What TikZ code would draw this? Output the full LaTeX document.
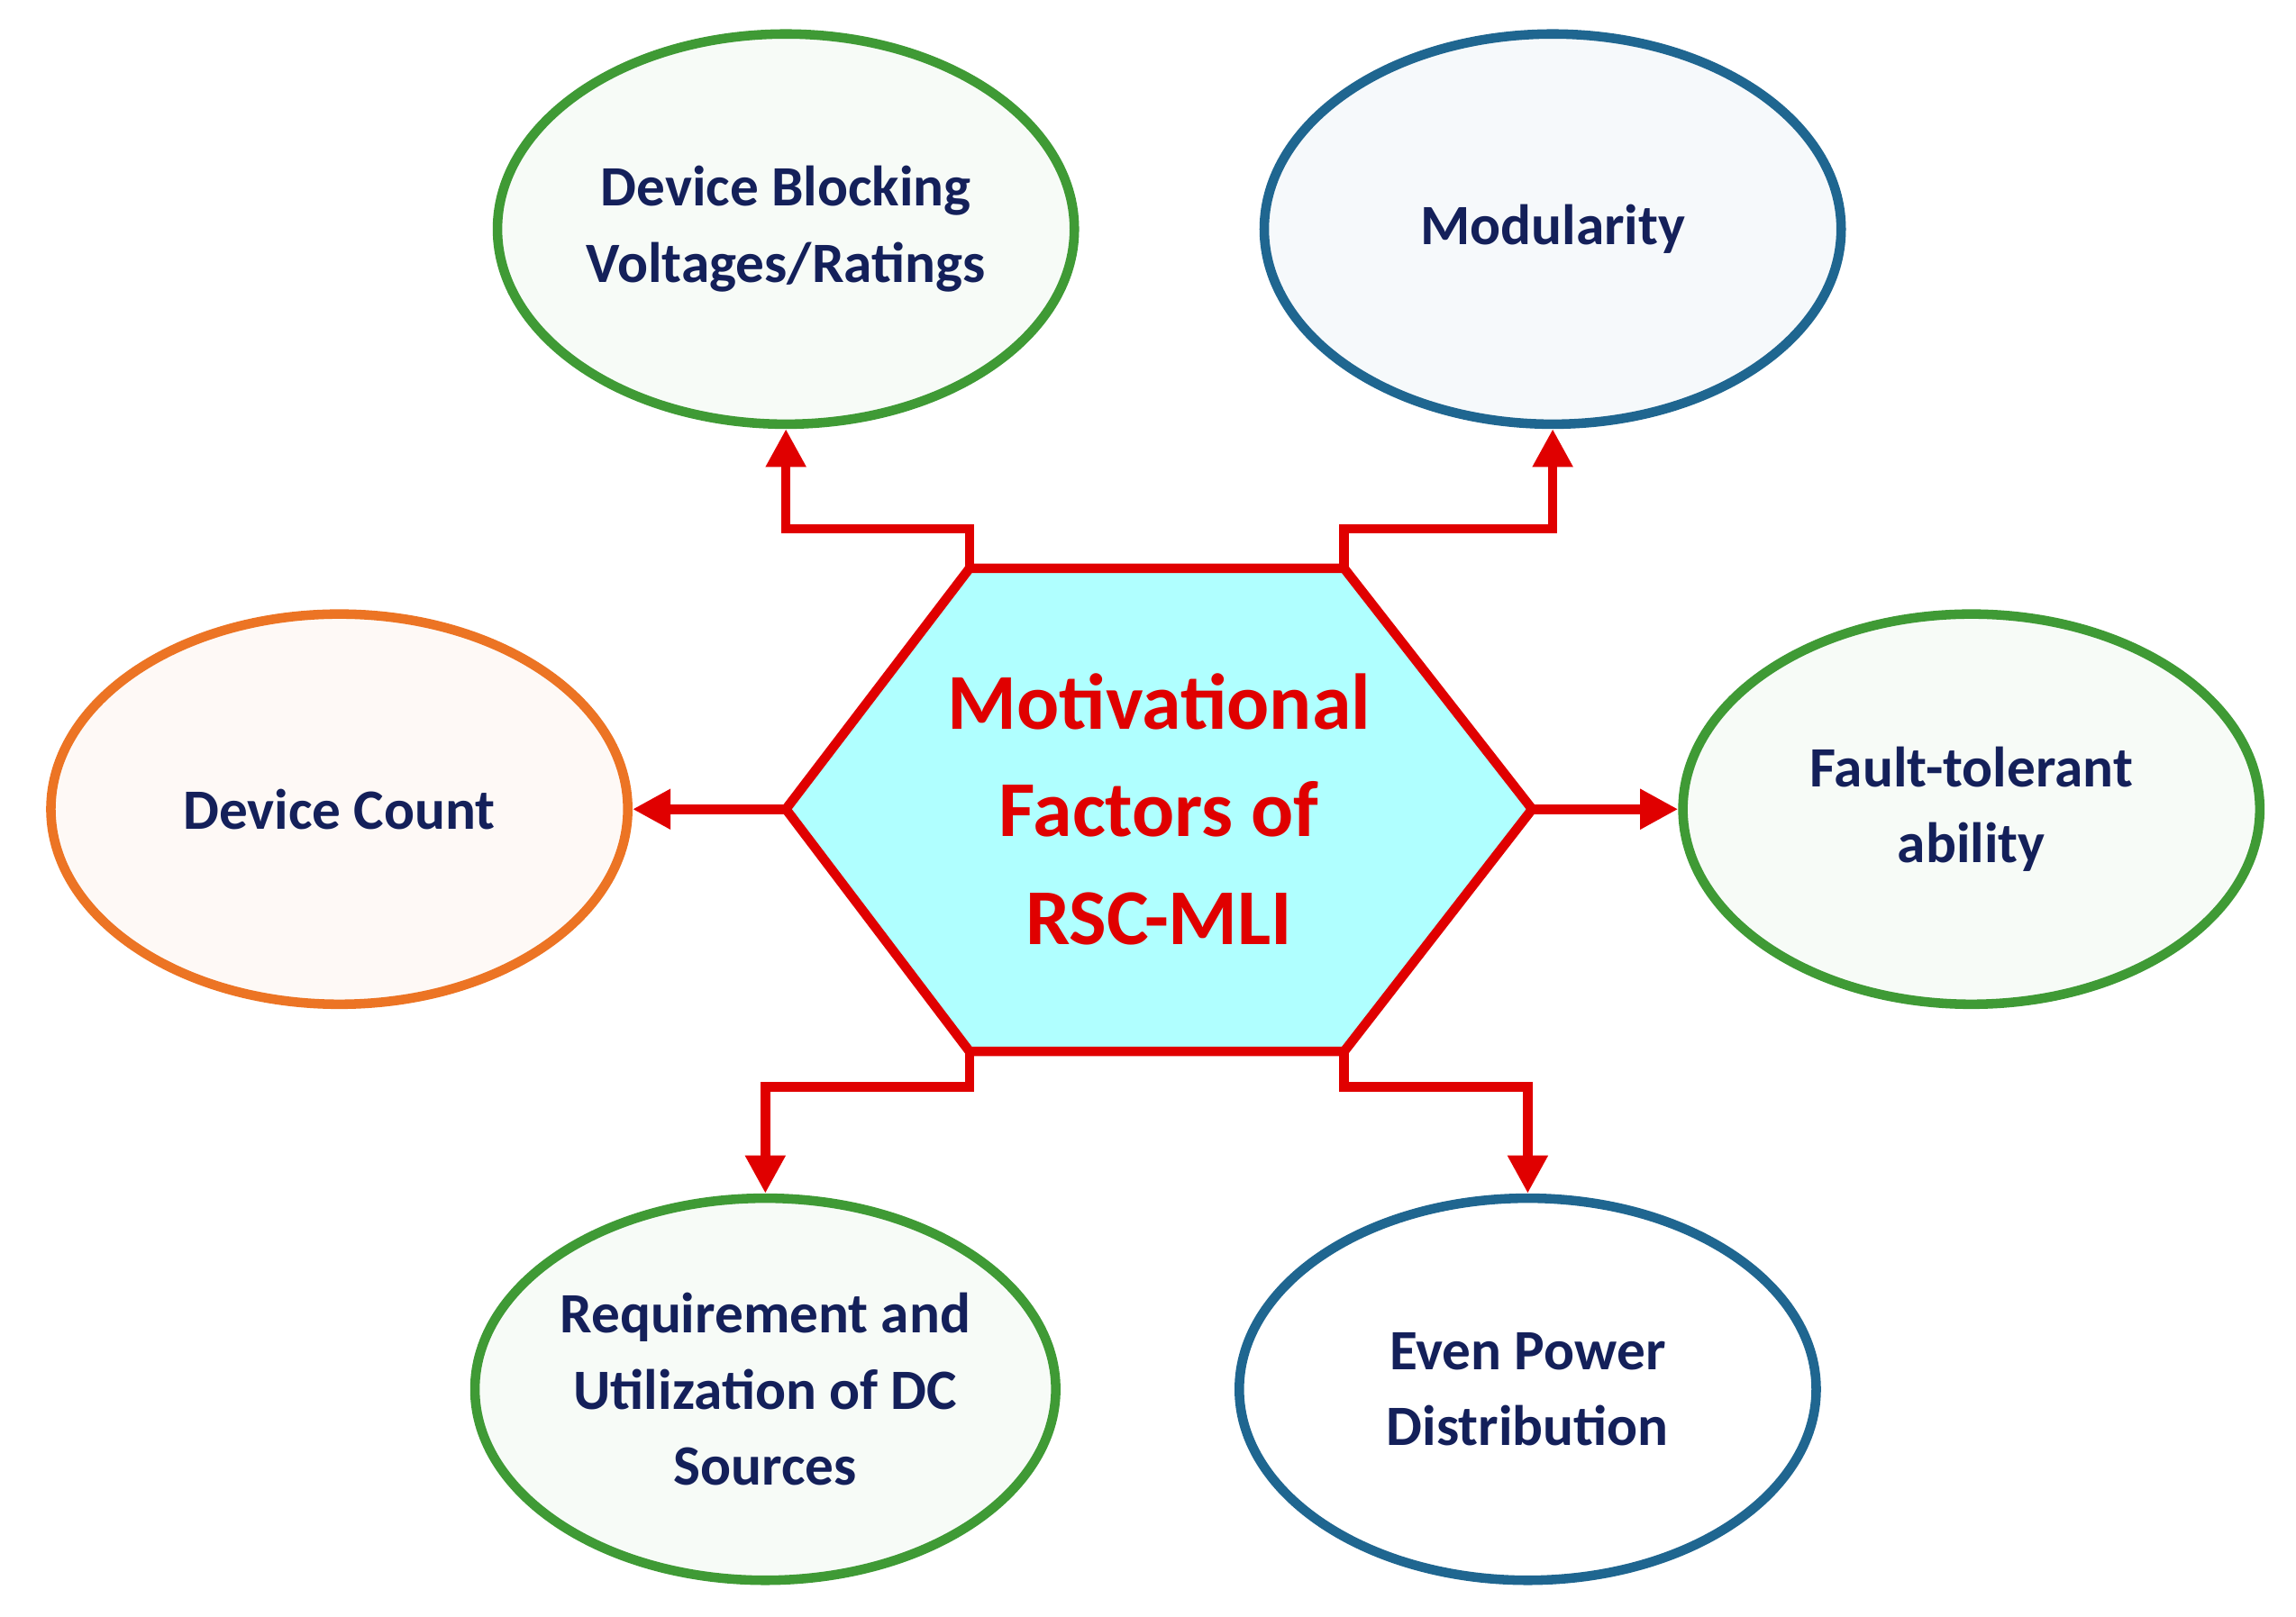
\documentclass[tikz,border=0pt]{standalone}
\usepackage{fontspec}
\setmainfont{Carlito}
\usetikzlibrary{shapes.geometric,arrows.meta}
\definecolor{navy}{HTML}{14205A}
\definecolor{hexred}{HTML}{E00000}
\definecolor{hexfill}{HTML}{B0FFFF}
\definecolor{egreen}{HTML}{3F9A35}
\definecolor{eblue}{HTML}{1F6690}
\definecolor{eorange}{HTML}{EC7424}
\tikzset{
  factor/.style={ellipse, line width=3pt, minimum width=6.4cm, minimum height=4.33cm,
    inner sep=0pt, align=center, text=navy, font=\fontsize{18}{24}\selectfont\bfseries},
  link/.style={hexred, line width=3pt, -{Triangle[length=12pt,width=12pt]}},
}
\begin{document}
\begin{tikzpicture}[x=0.0163cm,y=-0.0163cm]
\useasboundingbox (0,0) rectangle (1563,1101);

% central hexagon
\coordinate (h1) at (660,387);
\coordinate (h2) at (915,387);
\coordinate (h3) at (1043,551);
\coordinate (h4) at (915,716);
\coordinate (h5) at (660,716);
\coordinate (h6) at (535,551);
\filldraw[fill=hexfill, draw=hexred, line width=3pt, line join=miter]
  (h1) -- (h2) -- (h3) -- (h4) -- (h5) -- (h6) -- cycle;
\node[text=hexred, align=center, font=\fontsize{25}{34}\selectfont\bfseries] (title) at (789,551)
  {Motivational\\Factors of\\RSC-MLI};

% factors
\node[factor, draw=egreen, fill=egreen!4] (block) at (535,156) {Device Blocking\\Voltages/Ratings};
\node[factor, draw=eblue, fill=eblue!4] (modul) at (1057,156) {Modularity};
\node[factor, draw=eorange, fill=eorange!4] (count) at (231,551) {Device Count};
\node[factor, draw=egreen, fill=egreen!4] (fault) at (1342,551) {Fault-tolerant\\ability};
\node[factor, draw=egreen, fill=egreen!4, minimum height=4.24cm] (dcsrc) at (521,946) {Requirement and\\Utilization of DC\\Sources};
\node[factor, draw=eblue, fill=white, minimum height=4.24cm] (power) at (1040,946) {Even Power\\Distribution};

% connectors
\draw[link] (h1) -- (660,360) -| (block.south);
\draw[link] (h2) -- (915,360) -| (modul.south);
\draw[link] (h6) -- (count.east);
\draw[link] (h3) -- (fault.west);
\draw[link] (h5) -- (660,740) -| (dcsrc.north);
\draw[link] (h4) -- (915,740) -| (power.north);
\end{tikzpicture}
\end{document}
